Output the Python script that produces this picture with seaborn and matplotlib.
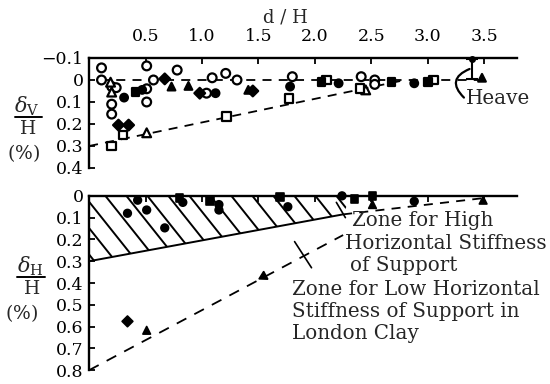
import numpy as np
import pandas as pd
import matplotlib
matplotlib.use("Agg")
import matplotlib.pyplot as plt
from matplotlib.patches import Polygon
import seaborn as sns

# ---- vertical movement  δv/H (%) against distance d/H ----
v_open_circle_d = [0.11, 0.51, 0.78, 0.11, 0.20, 0.24, 0.57, 0.51, 0.51, 0.20, 0.20,
                   1.04, 1.09, 1.21, 1.31, 1.80, 2.41, 2.53, 2.53]
v_open_circle_v = [-0.055, -0.064, -0.045, 0.0, 0.03, 0.035, 0.0, 0.04, 0.10, 0.11, 0.155,
                   0.06, -0.01, -0.03, 0.0, -0.015, -0.015, 0.0, 0.02]
v_open_triangle_d = [0.19, 0.20, 0.51, 2.45]
v_open_triangle_v = [0.01, 0.055, 0.24, 0.045]
v_open_square_d = [0.20, 0.30, 1.22, 1.77, 2.10, 2.40, 3.05]
v_open_square_v = [0.30, 0.25, 0.165, 0.085, 0.0, 0.04, 0.0]
v_filled_circle_d = [0.31, 0.47, 1.12, 1.78, 2.21, 2.88]
v_filled_circle_v = [0.08, 0.045, 0.06, 0.03, 0.015, 0.015]
v_filled_square_d = [0.41, 2.06, 2.68, 3.00]
v_filled_square_v = [0.055, 0.01, 0.01, 0.01]
v_filled_diamond_d = [0.67, 0.26, 0.35, 0.98, 1.45]
v_filled_diamond_v = [-0.005, 0.205, 0.205, 0.06, 0.05]
v_filled_triangle_d = [0.73, 0.88, 1.41, 3.48]
v_filled_triangle_v = [0.03, 0.027, 0.045, -0.01]

# heave range
heave_d = 3.39
heave_top = -0.095
heave_bottom = -0.005

# envelope lines, upper panel
v_env_top_d = [0.10, 3.45]
v_env_top_v = [0.0, 0.0]
v_env_low_d = [0.0, 2.80]
v_env_low_v = [0.30, 0.0]

# ---- horizontal movement  δH/H (%) against distance d/H ----
h_filled_circle_d = [0.43, 0.34, 0.51, 0.67, 0.83, 1.15, 1.15, 1.76, 2.24, 2.88]
h_filled_circle_h = [0.02, 0.08, 0.065, 0.147, 0.03, 0.04, 0.065, 0.05, 0.0, 0.025]
h_filled_square_d = [0.80, 1.07, 1.69, 2.35, 2.51]
h_filled_square_h = [0.01, 0.025, 0.005, 0.015, 0.0]
h_filled_triangle_d = [0.51, 2.51, 3.49]
h_filled_triangle_h = [0.617, 0.04, 0.02]
h_filled_diamond_d = [0.34]
h_filled_diamond_h = [0.576]

# zone boundaries
high_zone_d = [0.0, 2.25]
high_zone_h = [0.30, 0.085]
high_zone_ext_d = [2.25, 3.50]
high_zone_ext_h = [0.085, 0.01]
low_zone_d = [0.0, 2.25]
low_zone_h = [0.80, 0.18]
low_arrow_d = 1.54
low_arrow_h = 0.37

x_ticks = [0.5, 1.0, 1.5, 2.0, 2.5, 3.0, 3.5]
x_ticklabels = ["0.5", "1.0", "1.5", "2.0", "2.5", "3.0", "3.5"]
v_ticks = [-0.1, 0.0, 0.1, 0.2, 0.3, 0.4]
v_ticklabels = ["\u22120.1", "0", "0.1", "0.2", "0.3", "0.4"]
h_ticks = [0.0, 0.1, 0.2, 0.3, 0.4, 0.5, 0.6, 0.7, 0.8]
h_ticklabels = ["0", "0.1", "0.2", "0.3", "0.4", "0.5", "0.6", "0.7", "0.8"]

sns.set_theme(style="white")
plt.rcParams["font.family"] = ["DejaVu Serif"]
plt.rcParams["mathtext.fontset"] = "dejavuserif"

FS = 12.5      # tick labels
FS_NOTE = 14.3  # zone and heave notes
DASH = (0, (5, 4))


def build_frame(groups):
    rows = []
    for (shape, fill), (xs, ys) in groups.items():
        for x, y in zip(xs, ys):
            rows.append({"d": x, "y": y, "shape": shape, "fill": fill})
    return pd.DataFrame(rows)


markers = {"circle": "o", "square": "s", "diamond": "D", "triangle": "^"}
palette = {"open": "white", "filled": "black"}
sizes = {"open": 40, "filled": 30}

fig = plt.figure(figsize=(5.5, 3.84), dpi=100)
ax1 = fig.add_axes([0.162, 0.5625, 0.778, 0.2865])
ax2 = fig.add_axes([0.162, 0.036, 0.778, 0.454])

# ---------- upper panel ----------
upper = build_frame({
    ("circle", "open"): (v_open_circle_d, v_open_circle_v),
    ("triangle", "open"): (v_open_triangle_d, v_open_triangle_v),
    ("square", "open"): (v_open_square_d, v_open_square_v),
    ("circle", "filled"): (v_filled_circle_d, v_filled_circle_v),
    ("square", "filled"): (v_filled_square_d, v_filled_square_v),
    ("diamond", "filled"): (v_filled_diamond_d, v_filled_diamond_v),
    ("triangle", "filled"): (v_filled_triangle_d, v_filled_triangle_v),
})
sns.lineplot(x=v_env_top_d, y=v_env_top_v, ax=ax1, color="black", lw=1.3, linestyle=DASH, zorder=1)
sns.lineplot(x=v_env_low_d, y=v_env_low_v, ax=ax1, color="black", lw=1.3, linestyle=DASH, zorder=1)
sns.scatterplot(data=upper, x="d", y="y", hue="fill", style="shape", size="fill",
                palette=palette, markers=markers, sizes=sizes, edgecolor="black",
                linewidth=1.6, legend=False, ax=ax1, zorder=3, clip_on=False)

ax1.errorbar([heave_d], [(heave_top + heave_bottom) / 2],
             yerr=[[(heave_bottom - heave_top) / 2], [(heave_bottom - heave_top) / 2]],
             fmt="none", ecolor="black", elinewidth=1.5, capsize=4, capthick=1.5, zorder=4)
ax1.plot([heave_d], [heave_top], marker="o", ms=4, color="black", clip_on=False, zorder=5)
ax1.annotate("", xy=(3.37, -0.05), xytext=(3.32, 0.08),
             arrowprops=dict(arrowstyle="-", color="black", lw=1.6,
                             connectionstyle="arc3,rad=-0.75", shrinkA=0, shrinkB=0))
ax1.text(3.34, 0.085, "Heave", fontsize=FS_NOTE, ha="left", va="center")

ax1.set_xlim(0, 3.79)
ax1.set_ylim(0.4, -0.1)
ax1.set_xticks(x_ticks)
ax1.set_xticklabels(x_ticklabels)
ax1.set_yticks(v_ticks)
ax1.set_yticklabels(v_ticklabels)
ax1.xaxis.tick_top()
ax1.set_xlabel("")
ax1.set_ylabel("")

# ---------- lower panel ----------
lower = build_frame({
    ("circle", "filled"): (h_filled_circle_d, h_filled_circle_h),
    ("square", "filled"): (h_filled_square_d, h_filled_square_h),
    ("triangle", "filled"): (h_filled_triangle_d, h_filled_triangle_h),
    ("diamond", "filled"): (h_filled_diamond_d, h_filled_diamond_h),
})

# hatched zone of high horizontal stiffness
zone = Polygon([(0, 0), (2.32, 0), (high_zone_d[1], high_zone_h[1]),
                (high_zone_d[0], high_zone_h[0])], closed=True,
               facecolor="none", edgecolor="none", transform=ax2.transData)
ax2.add_patch(zone)
slope = 0.65
for c in np.arange(-0.6, 2.4, 0.186):
    hl, = ax2.plot([c, c + 0.5 / slope], [0, 0.5], color="black", lw=1.4, zorder=1)
    hl.set_clip_path(zone)

sns.lineplot(x=high_zone_d, y=high_zone_h, ax=ax2, color="black", lw=1.4, zorder=2)
sns.lineplot(x=high_zone_ext_d, y=high_zone_ext_h, ax=ax2, color="black", lw=1.3,
             linestyle=DASH, zorder=2)
sns.lineplot(x=low_zone_d, y=low_zone_h, ax=ax2, color="black", lw=1.3,
             linestyle=(0, (6, 5)), zorder=2)
sns.scatterplot(data=lower, x="d", y="y", hue="fill", style="shape", size="fill",
                palette=palette, markers=markers, sizes=sizes, edgecolor="black",
                linewidth=1.2, legend=False, ax=ax2, zorder=3, clip_on=False)
ax2.plot([low_arrow_d], [low_arrow_h], marker=(3, 0, 118), ms=7.5, color="black", zorder=4)

# leader lines to the zone labels
ax2.plot([2.19, 2.27], [0.03, 0.10], color="black", lw=1.2)
ax2.plot([1.82, 1.97], [0.21, 0.33], color="black", lw=1.2)

for txt, x, y in [("Zone for High", 2.33, 0.115),
                  ("Horizontal Stiffness", 2.27, 0.217),
                  ("of Support", 2.31, 0.318),
                  ("Zone for Low Horizontal", 1.80, 0.43),
                  ("Stiffness of Support in", 1.80, 0.53),
                  ("London Clay", 1.80, 0.63)]:
    ax2.text(x, y, txt, fontsize=FS_NOTE, ha="left", va="center")

ax2.set_xlim(0, 3.79)
ax2.set_ylim(0.8, 0.0)
ax2.set_xticks(x_ticks)
ax2.xaxis.tick_top()
ax2.set_xticklabels([])
ax2.set_yticks(h_ticks)
ax2.set_yticklabels(h_ticklabels)
ax2.set_xlabel("")
ax2.set_ylabel("")

for ax in (ax1, ax2):
    ax.set_facecolor("none")
    for side in ("right", "bottom"):
        ax.spines[side].set_visible(False)
    for side in ("left", "top"):
        ax.spines[side].set_linewidth(1.7)
        ax.spines[side].set_color("black")
    ax.tick_params(axis="both", direction="in", length=4, width=1.3, colors="black",
                   labelsize=FS, pad=4)
    ax.tick_params(axis="x", pad=9, top=True, bottom=False)
    ax.tick_params(axis="y", left=True, right=False)

# axis titles
fig.text(285 / 550, 1 - 18 / 384, "d / H", fontsize=FS + 0.5, ha="center", va="center")

fig.text(27 / 550, 1 - 106 / 384, r"$\delta_{\rm V}$", fontsize=FS + 2.5, ha="center", va="center")
fig.add_artist(plt.Line2D([15 / 550, 42 / 550], [1 - 117 / 384, 1 - 117 / 384],
                          color="black", lw=1.4, transform=fig.transFigure))
fig.text(28 / 550, 1 - 129 / 384, "H", fontsize=FS + 1, ha="center", va="center")
fig.text(24 / 550, 1 - 153 / 384, r"$(\%)$", fontsize=FS + 1, ha="center", va="center")

fig.text(30 / 550, 1 - 266 / 384, r"$\delta_{\rm H}$", fontsize=FS + 2.5, ha="center", va="center")
fig.add_artist(plt.Line2D([17 / 550, 45 / 550], [1 - 277 / 384, 1 - 277 / 384],
                          color="black", lw=1.4, transform=fig.transFigure))
fig.text(32 / 550, 1 - 289 / 384, "H", fontsize=FS + 1, ha="center", va="center")
fig.text(22 / 550, 1 - 313 / 384, r"$(\%)$", fontsize=FS + 1, ha="center", va="center")

fig.savefig("out.png", dpi=100, facecolor="white")
